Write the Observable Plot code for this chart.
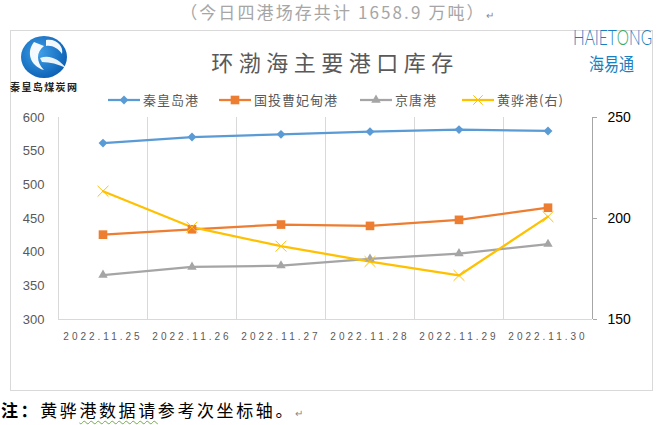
<!DOCTYPE html>
<html>
<head>
<meta charset="utf-8">
<script src="https://cdn.jsdelivr.net/npm/d3@7"></script>
<script src="https://cdn.jsdelivr.net/npm/@observablehq/plot@0.6"></script>
<style>
  html, body { margin: 0; padding: 0; background: #fff; }
  #page { position: relative; width: 658px; height: 425px; overflow: hidden; font-family: "Noto Sans CJK SC", "Noto Sans", sans-serif; }
  #chart { position: absolute; left: 0; top: 0; }
  .abs { position: absolute; white-space: nowrap; }
  #chart svg [aria-label="x-axis tick label"] text { letter-spacing: 3px; }
</style>
</head>
<body>
<div id="page">
  <div id="chart"></div>
  <div class="abs" style="left:10px;top:30px;width:643px;height:361px;border:1px solid #D9D9D9;box-sizing:border-box;"></div>
  <div class="abs" id="subtitle" style="left:0;width:676px;top:2px;text-align:center;font-size:17px;line-height:20px;color:#A6A6A6;letter-spacing:2.1px;">（今日四港场存共计 1658.9 万吨）<span style="font-size:10px;color:#888;">↵</span></div>
  <div class="abs" id="title" style="left:0;width:670px;top:47px;text-align:center;font-size:22px;line-height:28px;color:#595959;letter-spacing:5.5px;">环渤海主要港口库存</div>
  <svg class="abs" style="left:0;top:0;" width="658" height="110" id="logos">
    <defs>
      <radialGradient id="lg" cx="40%" cy="40%" r="65%">
        <stop offset="0%" stop-color="#3FA0E8"/>
        <stop offset="100%" stop-color="#0B5FB4"/>
      </radialGradient>
    </defs>
    <ellipse cx="44" cy="57" rx="23" ry="21" fill="url(#lg)"/>
    <path d="M34 42 C 26 52, 30 66, 44 70 C 36 62, 36 52, 44 46 Z" fill="#fff" opacity="0.95"/>
    <path d="M46 40 C 56 38, 64 46, 62 54 C 58 48, 52 45, 46 46 Z" fill="#fff" opacity="0.95"/>
    <path d="M40 58 C 50 54, 60 60, 66 68 C 58 64, 50 62, 42 62 Z" fill="#fff" opacity="0.9"/>
    <text x="10" y="91" font-family="'Noto Sans CJK SC'" font-weight="700" font-size="10" fill="#222" textLength="67" lengthAdjust="spacing">秦皇岛煤炭网</text>
    <text transform="translate(573,45) scale(1,1.4)" x="0" y="0" font-family="Lato, 'Open Sans', sans-serif" font-weight="300" font-size="15.5" fill="#1A7FC1" textLength="79" lengthAdjust="spacingAndGlyphs">HAIET<tspan fill="#3BAA5C">O</tspan>NG</text>
    <text transform="translate(589,71) scale(1,1.2)" x="0" y="0" font-family="'Noto Sans CJK SC'" font-size="15" fill="#1A7FC1" textLength="45" lengthAdjust="spacingAndGlyphs">海易通</text>
  </svg>
  <svg class="abs" style="left:0;top:88px;" width="658" height="24" id="legend"></svg>
  <div class="abs" id="note" style="left:1px;top:401px;font-size:17px;line-height:18px;color:#000;letter-spacing:2.6px;"><b>注：</b>黄骅<span style="text-decoration:underline wavy #70AD47;text-decoration-thickness:1px;text-underline-offset:3px;">港数据请</span>参考次坐标轴。<span style="font-size:10px;color:#888;">↵</span></div>
</div>
<script>
// ---- data ----
const dates = ["2022.11.25", "2022.11.26", "2022.11.27", "2022.11.28", "2022.11.29", "2022.11.30"];
const qinhuangdao = [562, 571, 575, 579, 582, 580];   // 秦皇岛港 (left axis)
const caofeidian  = [426, 434, 441, 439, 448, 466];   // 国投曹妃甸港 (left axis)
const jingtang    = [366, 378, 380, 390, 398, 412];   // 京唐港 (left axis)
const huanghua    = [213.5, 195.7, 186.3, 178.7, 171.8, 200.9]; // 黄骅港 (right axis)
const seriesNames = ["秦皇岛港", "国投曹妃甸港", "京唐港", "黄骅港(右)"];
const seriesColors = ["#5B9BD5", "#ED7D31", "#A5A5A5", "#FFC000"];
const leftTicks = [300, 350, 400, 450, 500, 550, 600];
const rightTicks = [150, 200, 250];
const leftDomain = [300, 600];
const rightDomain = [150, 250];

// map right-axis values onto the left scale
const toLeft = v => leftDomain[0] + (v - rightDomain[0]) * (leftDomain[1] - leftDomain[0]) / (rightDomain[1] - rightDomain[0]);
const fromLeft = y => rightDomain[0] + (y - leftDomain[0]) * (rightDomain[1] - rightDomain[0]) / (leftDomain[1] - leftDomain[0]);

const W = 658, H = 425, mL = 58, mR = 66, mT = 117, mB = 106;
const bw = (W - mL - mR) / dates.length;

const rows = dates.map((date, i) => ({date, q: qinhuangdao[i], c: caofeidian[i], j: jingtang[i], h: toLeft(huanghua[i])}));

const chart = Plot.plot({
  width: W, height: H,
  marginLeft: mL, marginRight: mR, marginTop: mT, marginBottom: mB,
  style: {background: "transparent", fontFamily: "'Liberation Sans', Arial, sans-serif", overflow: "visible"},
  x: {type: "band", domain: dates, padding: 0},
  y: {domain: leftDomain},
  marks: [
    Plot.ruleX(dates, {x: d => d, dx: -bw / 2, stroke: "#D9D9D9", strokeWidth: 1}),
    Plot.ruleY([leftDomain[0]], {stroke: "#D9D9D9", strokeWidth: 1}),
    Plot.ruleX([dates[dates.length - 1]], {x: d => d, dx: bw / 2, stroke: "#A6A6A6", strokeWidth: 1}),
    Plot.axisY({ticks: leftTicks, tickSize: 0, tickPadding: 14, fontSize: 13, fill: "#595959", label: null}),
    Plot.axisY({anchor: "right", ticks: rightTicks.map(toLeft), tickFormat: d => String(Math.round(fromLeft(d))),
      tickSize: 4, tickPadding: 11, stroke: "#A6A6A6", fill: "#000", fontSize: 14, label: null}),
    Plot.axisX({tickSize: 0, tickPadding: 13, fontSize: 10, fill: "#595959", label: null}),
    Plot.line(rows, {x: "date", y: "q", stroke: seriesColors[0], strokeWidth: 2.25}),
    Plot.line(rows, {x: "date", y: "c", stroke: seriesColors[1], strokeWidth: 2.25}),
    Plot.line(rows, {x: "date", y: "j", stroke: seriesColors[2], strokeWidth: 2.25}),
    Plot.line(rows, {x: "date", y: "h", stroke: seriesColors[3], strokeWidth: 2.25}),
    Plot.dot(rows, {x: "date", y: "q", symbol: "diamond2", r: 4, fill: seriesColors[0], stroke: "none"}),
    Plot.dot(rows, {x: "date", y: "c", symbol: "square2", r: 5.5, fill: seriesColors[1], stroke: "none"}),
    Plot.dot(rows, {x: "date", y: "j", symbol: "triangle2", r: 4.5, fill: seriesColors[2], stroke: "none"}),
    Plot.dot(rows, {x: "date", y: "h", symbol: "times", r: 5, stroke: seriesColors[3], strokeWidth: 1, fill: "none"})
  ]
});
document.getElementById("chart").appendChild(chart);

// ---- legend ----
const legend = d3.select("#legend");
const legendSymbols = [d3.symbolDiamond2, d3.symbolSquare2, d3.symbolTriangle2, d3.symbolTimes];
const legendSizes = [50, 95, 64, 60];
const legendX = [108, 219, 360, 462];
seriesNames.forEach((name, i) => {
  const x0 = legendX[i], cy = 12;
  legend.append("line").attr("x1", x0).attr("x2", x0 + 32).attr("y1", cy).attr("y2", cy)
    .attr("stroke", seriesColors[i]).attr("stroke-width", 2.25);
  const p = legend.append("path").attr("d", d3.symbol(legendSymbols[i], legendSizes[i])())
    .attr("transform", `translate(${x0 + 16},${cy})`);
  if (i === 3) p.attr("fill", "none").attr("stroke", seriesColors[i]).attr("stroke-width", 1);
  else p.attr("fill", seriesColors[i]);
  legend.append("text").attr("x", x0 + 35).attr("y", cy).attr("dy", "0.36em")
    .attr("font-size", 13).attr("fill", "#595959").attr("letter-spacing", "1px")
    .attr("font-family", "'Noto Sans CJK SC', sans-serif").text(name);
});
</script>
</body>
</html>
